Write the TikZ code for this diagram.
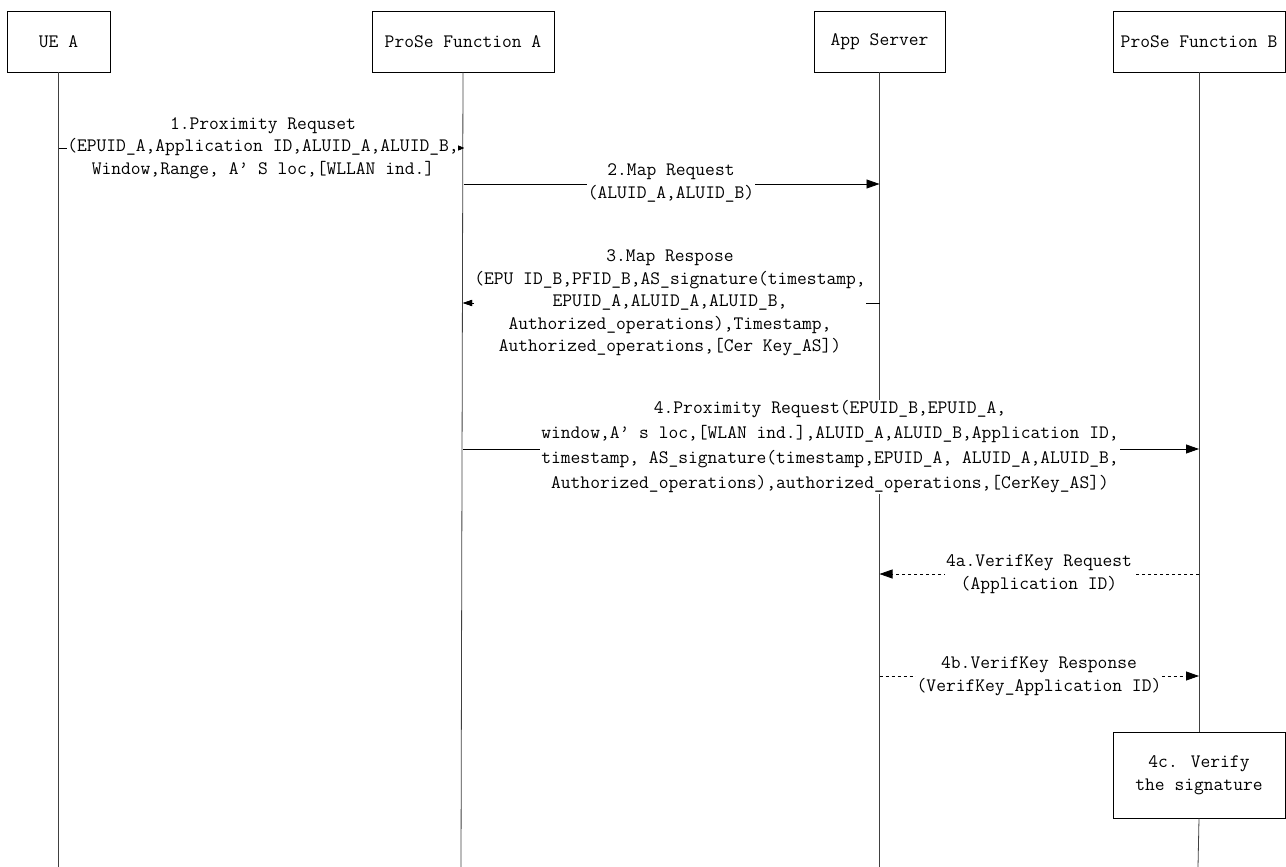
\documentclass[tikz,border=0pt]{standalone}
\usetikzlibrary{arrows.meta}

\begin{document}
\begin{tikzpicture}[x=1pt,y=-1pt,
    font=\ttfamily\fontsize{19}{22.5}\selectfont,
    actor/.style={draw,line width=0.8pt,minimum height=61pt,align=center,inner sep=0pt},
    life/.style={line width=0.8pt,black!75},
    msg/.style={line width=0.8pt,-{Triangle[length=13pt,width=9pt]}},
    smallmsg/.style={line width=0.8pt,-{Triangle[length=6pt,width=5pt]}},
    midmsg/.style={line width=0.8pt,-{Triangle[length=9pt,width=6pt]}},
    lbl/.style={fill=white,align=center,inner sep=1pt}]
    \useasboundingbox (0,0) rectangle (1286,867);

    \node[actor,minimum width=103pt] (UEA) at (58.5,41.5) {UE A};
    \node[actor,minimum width=182pt] (PFA) at (463,41.5) {ProSe Function A};
    \node[actor,minimum width=131pt] (AS)  at (879.5,41.5) {App Server};
    \node[actor,minimum width=172pt] (PFB) at (1199,41.5) {ProSe Function B};

    \coordinate (ueEnd) at (58.5,867);
    \coordinate (pfaEnd) at (461,867);
    \coordinate (asEnd) at (879.5,867);
    \coordinate (pfbEnd) at (1198,867);
    \node[actor,minimum width=172pt,minimum height=86pt] (verify) at (1199,775) {4c. Verify\\the signature};

    \draw[life] (UEA.south) -- (ueEnd);
    \draw[life] (PFA.south) -- (pfaEnd);
    \draw[life] (AS.south) -- (asEnd);
    \draw[life] (PFB.south) -- (verify.north);
    \draw[life] (verify.south) -- (pfbEnd);

    % messages
    \coordinate (m1a) at (58.5,148);  \coordinate (m1b) at (464,148);
    \coordinate (m2a) at (463.5,184); \coordinate (m2b) at (879.5,184);
    \coordinate (m3a) at (879.5,303); \coordinate (m3b) at (463,303);
    \coordinate (m4a) at (463,449);   \coordinate (m4b) at (1199,449);
    \coordinate (m5a) at (1199,574);  \coordinate (m5b) at (879.5,574);
    \coordinate (m6a) at (879.5,676); \coordinate (m6b) at (1199,676);

    \draw[smallmsg] (m1a) -- (m1b);
    \node[lbl,inner xsep=0pt] (l1) at (263,148) {1.Proximity Requset\\(EPUID\_A,Application ID,ALUID\_A,ALUID\_B,\\Window,Range, A’ S loc,[WLLAN ind.]};
    \draw[smallmsg] (l1.east |- m1b) -- (m1b);
    \draw[msg] (m2a) -- (m2b);
    \node[lbl] (l2) at (671,183) {2.Map Request\\(ALUID\_A,ALUID\_B)};
    \draw[midmsg] (m3a) -- (m3b);
    \node[lbl,inner xsep=0pt] (l3) at (670,303) {3.Map Respose\\(EPU ID\_B,PFID\_B,AS\_signature(timestamp,\\EPUID\_A,ALUID\_A,ALUID\_B,\\Authorized\_operations),Timestamp,\\Authorized\_operations,[Cer Key\_AS])};
    \draw[midmsg] (l3.west |- m3b) -- (m3b);
    \draw[msg] (m4a) -- (m4b);
    \node[lbl,font=\ttfamily\fontsize{19}{25}\selectfont] (l4) at (830,447) {4.Proximity Request(EPUID\_B,EPUID\_A,\\window,A’ s loc,[WLAN ind.],ALUID\_A,ALUID\_B,Application ID,\\timestamp, AS\_signature(timestamp,EPUID\_A, ALUID\_A,ALUID\_B,\\Authorized\_operations),authorized\_operations,[CerKey\_AS])};
    \draw[msg,dashed] (m5a) -- (m5b);
    \node[lbl] (l5) at (1039,574) {4a.VerifKey Request\\(Application ID)};
    \draw[msg,dashed] (m6a) -- (m6b);
    \node[lbl] (l6) at (1039,676) {4b.VerifKey Response\\(VerifKey\_Application ID)};
\end{tikzpicture}
\end{document}
